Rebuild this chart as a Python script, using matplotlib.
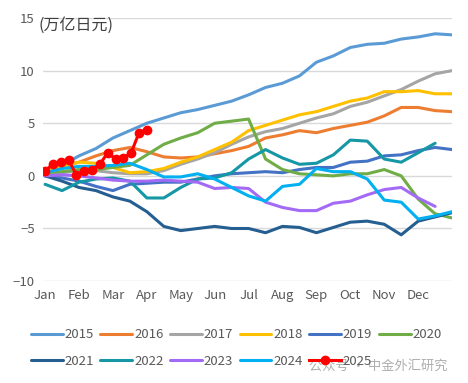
import matplotlib
matplotlib.use("Agg")
import matplotlib.pyplot as plt
import numpy as np

plt.rcParams["font.family"] = ["Noto Sans CJK SC", "DejaVu Sans"]

months = ["Jan", "Feb", "Mar", "Apr", "May", "Jun",
          "Jul", "Aug", "Sep", "Oct", "Nov", "Dec"]

# readings every half month, trillion yen
y2015 = [0.4, 1.0, 1.9, 2.6, 3.6, 4.3, 5.0, 5.5, 6.0, 6.3, 6.7, 7.1, 7.7,
         8.4, 8.8, 9.5, 10.8, 11.4, 12.2, 12.5, 12.6, 13.0, 13.2, 13.5, 13.4]
y2016 = [0.5, 0.9, 1.3, 1.9, 2.4, 2.7, 2.3, 1.8, 1.7, 1.8, 2.1, 2.4, 2.8,
         3.6, 3.9, 4.3, 4.1, 4.5, 4.8, 5.1, 5.7, 6.5, 6.5, 6.2, 6.1]
y2017 = [0.0, 0.3, 0.5, 0.5, 0.3, 0.2, 0.2, 0.5, 1.1, 1.6, 2.2, 3.0, 3.7,
         4.2, 4.5, 5.0, 5.5, 5.9, 6.6, 7.0, 7.6, 8.2, 9.0, 9.7, 10.0]
y2018 = [0.5, 0.9, 1.3, 1.2, 0.8, 0.3, 0.4, 0.7, 1.3, 1.8, 2.5, 3.2, 4.3,
         4.8, 5.3, 5.8, 6.1, 6.6, 7.1, 7.4, 8.0, 8.0, 8.1, 7.8, 7.8]
y2019 = [0.0, -0.2, -0.5, -1.0, -1.4, -0.8, -0.7, -0.6, -0.6, -0.3, 0.0,
         0.2, 0.3, 0.4, 0.3, 0.6, 0.8, 0.8, 1.3, 1.4, 1.9, 2.0, 2.4, 2.7, 2.5]
y2020 = [0.3, 0.4, 0.6, 0.6, 0.8, 1.0, 2.0, 3.0, 3.6, 4.1, 5.0, 5.2, 5.4,
         1.6, 0.6, 0.2, 0.1, 0.0, 0.2, 0.2, 0.6, 0.0, -2.2, -3.6, -4.0]
y2021 = [0.0, -0.5, -1.1, -1.4, -2.0, -2.4, -3.4, -4.8, -5.2, -5.0, -4.8,
         -5.0, -5.0, -5.4, -4.8, -4.9, -5.4, -4.9, -4.4, -4.3, -4.6, -5.6,
         -4.3, -3.9, -3.5]
y2022 = [-0.8, -1.4, -0.6, -0.3, -0.2, -0.5, -2.1, -2.1, -1.1, -0.3, -0.2,
         0.3, 1.6, 2.5, 1.7, 1.1, 1.2, 2.0, 3.4, 3.3, 1.6, 1.3, 2.2, 3.1]
y2023 = [0.0, 0.1, 0.0, -0.2, -0.4, -0.5, -0.5, -0.4, -0.5, -0.6, -1.2,
         -1.1, -1.2, -2.5, -3.0, -3.3, -3.3, -2.6, -2.4, -1.8, -1.3, -1.1,
         -2.1, -2.9]
y2024 = [0.3, 0.7, 0.9, 0.9, 1.0, 1.2, 0.6, -0.1, -0.1, 0.2, -0.3, -1.1,
         -1.9, -2.4, -1.0, -0.8, 0.7, 0.4, 0.4, -0.3, -2.3, -2.5, -4.1,
         -3.8, -3.4]
# weekly readings
y2025 = [0.5, 1.1, 1.3, 1.5, 0.1, 0.5, 0.6, 1.1, 2.2, 1.6, 1.7, 2.2, 4.1, 4.4]

series = {
    "2015": (y2015, "#5B9BD5"),
    "2016": (y2016, "#ED7D31"),
    "2017": (y2017, "#A5A5A5"),
    "2018": (y2018, "#FFC000"),
    "2019": (y2019, "#4472C4"),
    "2020": (y2020, "#70AD47"),
    "2021": (y2021, "#255E91"),
    "2022": (y2022, "#1597A5"),
    "2023": (y2023, "#A36BF5"),
    "2024": (y2024, "#00B0F0"),
}

fig = plt.figure(figsize=(4.68, 3.83), dpi=100)
ax = fig.add_axes([0.092, 0.266, 0.874, 0.687])

handles = {}
for name, (vals, col) in series.items():
    x = np.arange(len(vals)) * 0.5
    h, = ax.plot(x, vals, color=col, lw=2.2, solid_capstyle="round")
    handles[name] = h

x25 = np.arange(len(y2025)) * 12 / 52
h, = ax.plot(x25, y2025, color="#FF0000", lw=2.2, marker="o", ms=6)
handles["2025"] = h

ax.set_xlim(-0.06, 12.0)
ax.set_ylim(-10, 15)
ax.set_yticks([-10, -5, 0, 5, 10, 15])
ax.set_xticks(range(12))
ax.set_xticklabels(months)
ax.tick_params(length=0, labelsize=9.5, colors="#595959", pad=6)
ax.grid(axis="y", color="#D9D9D9", lw=1)
ax.set_axisbelow(True)
for s in ax.spines.values():
    s.set_visible(False)

fig.text(38 / 468, 1 - 25 / 383, "(万亿日元)", fontsize=11.5,
         color="#404040", va="center", ha="left")

order = ["2015", "2021", "2016", "2022", "2017", "2023",
         "2018", "2024", "2019", "2025", "2020"]
fig.legend([handles[k] for k in order], order, loc="center",
           bbox_to_anchor=(0.505, 1 - 348 / 383), ncol=6, frameon=False,
           fontsize=9.5, handlelength=2.4, handletextpad=0.15,
           columnspacing=0.5, labelcolor="#595959", labelspacing=1.0)

fig.text(0.66, 1 - 366 / 383, "公众号 · 中金外汇研究", fontsize=9.5,
         color="#9A9A9A", alpha=0.8, va="center", ha="left")

fig.savefig("out.png", dpi=100)
